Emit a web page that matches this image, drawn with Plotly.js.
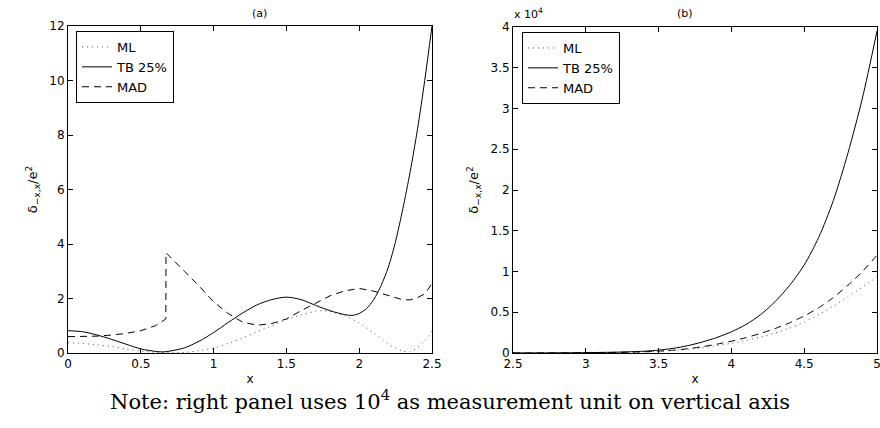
<!DOCTYPE html>
<html>
<head>
<meta charset="utf-8">
<script src="https://cdn.plot.ly/plotly-3.0.1.min.js"></script>
<style>html,body{margin:0;padding:0;background:#fff;}#chart{width:880px;height:428px;}</style>
</head>
<body>
<div id="chart"></div>
<script>
// ---- Panel (a): x from 0 to 2.5 ----
const xA_ML = [0, 0.1, 0.2, 0.3, 0.4, 0.5, 0.6, 0.7, 0.8, 0.9, 1.0, 1.1, 1.2, 1.3, 1.4, 1.5, 1.6, 1.7, 1.75, 1.8, 1.9, 2.0, 2.1, 2.2, 2.3, 2.35, 2.4, 2.45, 2.5];
const yA_ML = [0.38, 0.35, 0.30, 0.24, 0.15, 0.07, 0.03, 0.01, 0.02, 0.08, 0.18, 0.35, 0.55, 0.78, 1.0, 1.22, 1.4, 1.53, 1.55, 1.52, 1.37, 1.1, 0.72, 0.32, 0.07, 0.05, 0.2, 0.45, 0.8];

const xA_TB = [0, 0.1, 0.2, 0.3, 0.4, 0.5, 0.6, 0.65, 0.7, 0.8, 0.9, 1.0, 1.1, 1.2, 1.3, 1.4, 1.5, 1.6, 1.7, 1.8, 1.9, 1.95, 2.0, 2.05, 2.1, 2.15, 2.2, 2.25, 2.3, 2.35, 2.4, 2.45, 2.5];
const yA_TB = [0.82, 0.78, 0.66, 0.5, 0.32, 0.15, 0.06, 0.04, 0.07, 0.19, 0.43, 0.75, 1.12, 1.47, 1.77, 1.96, 2.05, 1.96, 1.75, 1.55, 1.41, 1.38, 1.45, 1.63, 1.96, 2.47, 3.15, 4.1, 5.3, 6.65, 8.2, 10.0, 12.0];

const xA_MAD = [0, 0.1, 0.2, 0.3, 0.4, 0.5, 0.6, 0.672, 0.673, 0.8, 0.9, 1.0, 1.1, 1.2, 1.3, 1.4, 1.5, 1.6, 1.7, 1.8, 1.9, 2.0, 2.1, 2.2, 2.3, 2.35, 2.4, 2.45, 2.5];
const yA_MAD = [0.6, 0.6, 0.62, 0.66, 0.72, 0.82, 1.0, 1.25, 3.68, 3.0, 2.46, 1.88, 1.45, 1.13, 1.02, 1.08, 1.25, 1.55, 1.83, 2.1, 2.28, 2.37, 2.27, 2.1, 1.95, 1.95, 2.03, 2.17, 2.55];

// ---- Panel (b): x from 2.5 to 5, values in units of 10^4 ----
const xB = [2.5, 2.6, 2.7, 2.8, 2.9, 3.0, 3.1, 3.2, 3.3, 3.4, 3.5, 3.6, 3.7, 3.8, 3.9, 4.0, 4.1, 4.2, 4.3, 4.4, 4.5, 4.6, 4.7, 4.8, 4.9, 5.0];
const yB_ML  = [0.0003, 0.0005, 0.0008, 0.0012, 0.002, 0.003, 0.004, 0.006, 0.009, 0.013, 0.02, 0.03, 0.045, 0.064, 0.09, 0.12, 0.155, 0.195, 0.245, 0.305, 0.38, 0.47, 0.575, 0.69, 0.81, 0.93];
const yB_TB  = [0.0005, 0.001, 0.0015, 0.002, 0.003, 0.005, 0.007, 0.01, 0.015, 0.022, 0.035, 0.057, 0.09, 0.135, 0.19, 0.26, 0.35, 0.47, 0.63, 0.83, 1.08, 1.42, 1.87, 2.45, 3.13, 3.95];
const yB_MAD = [0.0003, 0.0005, 0.0008, 0.0012, 0.002, 0.003, 0.0045, 0.007, 0.01, 0.015, 0.022, 0.034, 0.052, 0.077, 0.108, 0.145, 0.188, 0.24, 0.3, 0.37, 0.455, 0.555, 0.68, 0.83, 1.0, 1.2];

const seriesNames = ['ML', 'TB 25%', 'MAD'];
const xTicksA = [0, 0.5, 1, 1.5, 2, 2.5];
const xTickTextA = ['0', '0.5', '1', '1.5', '2', '2.5'];
const yTicksA = [0, 2, 4, 6, 8, 10, 12];
const xTicksB = [2.5, 3, 3.5, 4, 4.5, 5];
const xTickTextB = ['2.5', '3', '3.5', '4', '4.5', '5'];
const yTicksB = [0, 0.5, 1, 1.5, 2, 2.5, 3, 3.5, 4];
const yTickTextB = ['0', '0.5', '1', '1.5', '2', '2.5', '3', '3.5', '4'];

const FONT = 'DejaVu Sans, Liberation Sans, Arial, sans-serif';
const dotStyle = {color: '#555', width: 1, dash: '1px,4px', shape: 'spline', smoothing: 0.6};
const solidStyle = {color: '#000', width: 1, shape: 'spline', smoothing: 0.8};
const dashStyle = {color: '#000', width: 1, dash: '7px,5px', shape: 'spline', smoothing: 0.5};

const traces = [
  {x: xA_ML, y: yA_ML, name: seriesNames[0], mode: 'lines', line: dotStyle, xaxis: 'x', yaxis: 'y', legend: 'legend'},
  {x: xA_TB, y: yA_TB, name: seriesNames[1], mode: 'lines', line: solidStyle, xaxis: 'x', yaxis: 'y', legend: 'legend'},
  {x: xA_MAD, y: yA_MAD, name: seriesNames[2], mode: 'lines', line: Object.assign({}, dashStyle, {shape: 'linear'}), xaxis: 'x', yaxis: 'y', legend: 'legend'},
  {x: xB, y: yB_ML, name: seriesNames[0], mode: 'lines', line: dotStyle, xaxis: 'x2', yaxis: 'y2', legend: 'legend2'},
  {x: xB, y: yB_TB, name: seriesNames[1], mode: 'lines', line: solidStyle, xaxis: 'x2', yaxis: 'y2', legend: 'legend2'},
  {x: xB, y: yB_MAD, name: seriesNames[2], mode: 'lines', line: dashStyle, xaxis: 'x2', yaxis: 'y2', legend: 'legend2'}
];

const W = 880, H = 428;
const px = v => v / W, py = v => 1 - v / H;

const axisCommon = {
  showgrid: false, zeroline: false, showline: true, linecolor: '#000', linewidth: 1,
  mirror: 'ticks', ticks: 'inside', ticklen: 5, tickcolor: '#000', tickwidth: 1,
  ticklabeloverflow: 'allow',
  tickfont: {family: FONT, size: 12, color: '#000'}, fixedrange: true
};
const ytitle = {text: 'δ<sub>−x,x</sub>/e<sup>2</sup>', font: {family: FONT, size: 13, color: '#000'}, standoff: 8};
const xtitle = {text: 'x', font: {family: FONT, size: 12, color: '#000'}, standoff: 4};

const layout = {
  width: W, height: H,
  margin: {l: 0, r: 0, t: 0, b: 0},
  paper_bgcolor: '#fff', plot_bgcolor: '#fff',
  showlegend: true,
  xaxis: Object.assign({}, axisCommon, {domain: [px(68), px(432)], range: [0, 2.5], tickvals: xTicksA, ticktext: xTickTextA, anchor: 'y', title: xtitle}),
  yaxis: Object.assign({}, axisCommon, {domain: [py(353), py(26)], range: [0, 12], tickvals: yTicksA, anchor: 'x', title: ytitle}),
  xaxis2: Object.assign({}, axisCommon, {domain: [px(513), px(877)], range: [2.5, 5], tickvals: xTicksB, ticktext: xTickTextB, anchor: 'y2', title: xtitle}),
  yaxis2: Object.assign({}, axisCommon, {domain: [py(353), py(27)], range: [0, 4], tickvals: yTicksB, ticktext: yTickTextB, anchor: 'x2', title: ytitle}),
  legend: {x: px(76), y: py(31), xanchor: 'left', yanchor: 'top', bgcolor: '#fff', bordercolor: '#000', borderwidth: 1,
           font: {family: FONT, size: 13, color: '#000'}, tracegroupgap: 0, itemwidth: 30},
  legend2: {x: px(522), y: py(32), xanchor: 'left', yanchor: 'top', bgcolor: '#fff', bordercolor: '#000', borderwidth: 1,
            font: {family: FONT, size: 13, color: '#000'}, tracegroupgap: 0, itemwidth: 30},
  annotations: [
    {text: '(a)', x: px(250), y: py(13), xref: 'paper', yref: 'paper', yanchor: 'middle', showarrow: false, font: {family: FONT, size: 11, color: '#000'}},
    {text: '(b)', x: px(695), y: py(13), xref: 'paper', yref: 'paper', yanchor: 'middle', showarrow: false, font: {family: FONT, size: 11, color: '#000'}},
    {text: 'x 10<sup>4</sup>', x: px(512), y: py(14), xref: 'paper', yref: 'paper', xanchor: 'left', yanchor: 'middle', showarrow: false, font: {family: FONT, size: 11, color: '#000'}},
    {text: 'Note: right panel uses 10<sup>4</sup> as measurement unit on vertical axis', x: px(450), y: py(400), xref: 'paper', yref: 'paper', yanchor: 'middle', showarrow: false,
     font: {family: 'DejaVu Serif, Liberation Serif, serif', size: 21, color: '#000'}}
  ]
};

Plotly.newPlot('chart', traces, layout, {displayModeBar: false, staticPlot: true});
</script>
</body>
</html>
